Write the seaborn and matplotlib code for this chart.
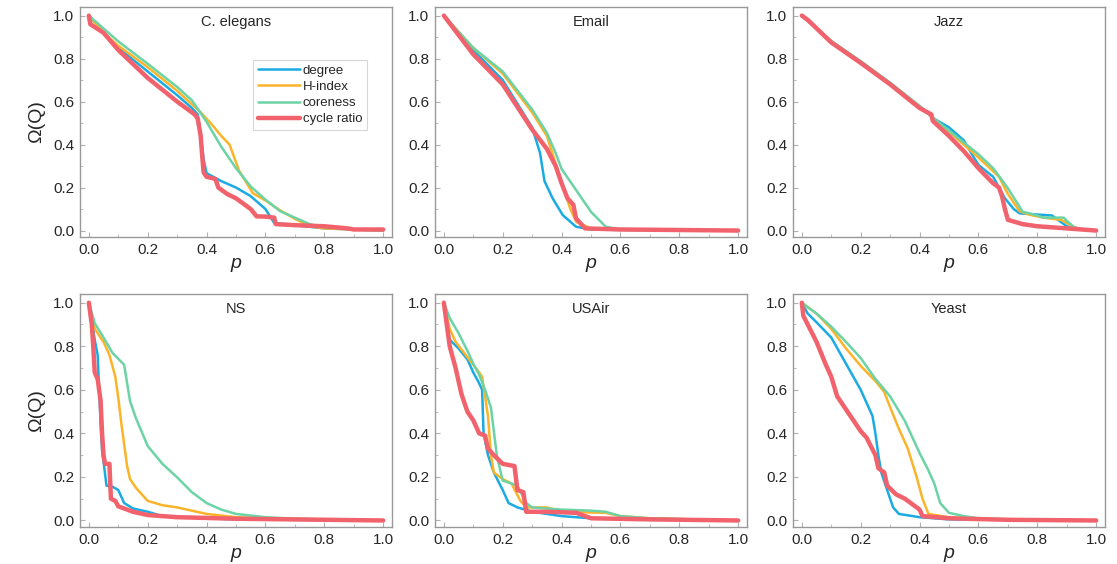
import numpy as np
import pandas as pd
import seaborn as sns
import matplotlib.pyplot as plt
from matplotlib.ticker import MultipleLocator

methods = ["degree", "H-index", "coreness", "cycle ratio"]
colors = ["#1AABE3", "#FBB42A", "#6CD3A5", "#F1626C"]
widths = [1.8, 1.8, 1.8, 3.2]
networks = ["C. elegans", "Email", "Jazz", "NS", "USAir", "Yeast"]

# C. elegans
ce_deg_p = [0, 0.05, 0.1, 0.2, 0.3, 0.35, 0.37, 0.38, 0.39, 0.40, 0.45, 0.5, 0.55, 0.6, 0.63, 0.7, 0.8, 0.9, 1.0]
ce_deg_v = [1.0, 0.92, 0.85, 0.74, 0.63, 0.57, 0.54, 0.45, 0.33, 0.267, 0.23, 0.20, 0.16, 0.10, 0.035, 0.025, 0.01, 0.005, 0.0]
ce_h_p = [0, 0.05, 0.1, 0.2, 0.3, 0.38, 0.42, 0.45, 0.478, 0.51, 0.557, 0.6, 0.65, 0.7, 0.75, 0.8, 0.9, 1.0]
ce_h_v = [1.0, 0.92, 0.86, 0.76, 0.65, 0.55, 0.49, 0.44, 0.40, 0.28, 0.174, 0.14, 0.094, 0.055, 0.02, 0.01, 0.005, 0.0]
ce_core_p = [0, 0.05, 0.1, 0.2, 0.3, 0.35, 0.4, 0.45, 0.5, 0.55, 0.6, 0.65, 0.7, 0.75, 0.8, 0.9, 1.0]
ce_core_v = [1.0, 0.94, 0.88, 0.776, 0.668, 0.606, 0.506, 0.39, 0.29, 0.205, 0.144, 0.09, 0.06, 0.03, 0.015, 0.005, 0.0]
ce_cr_p = [0, 0.005, 0.05, 0.1, 0.2, 0.3, 0.36, 0.37, 0.38, 0.385, 0.39, 0.40, 0.43, 0.44, 0.47, 0.5, 0.53, 0.55, 0.57, 0.6, 0.63, 0.635, 0.7, 0.8, 0.88, 0.9, 1.0]
ce_cr_v = [1.0, 0.96, 0.92, 0.84, 0.71, 0.60, 0.54, 0.52, 0.44, 0.35, 0.27, 0.25, 0.24, 0.20, 0.17, 0.15, 0.12, 0.10, 0.066, 0.065, 0.06, 0.03, 0.025, 0.02, 0.01, 0.005, 0.005]

# Email
em_deg_p = [0, 0.1, 0.2, 0.3, 0.327, 0.342, 0.37, 0.404, 0.449, 0.5, 0.6, 1.0]
em_deg_v = [1.0, 0.84, 0.70, 0.48, 0.36, 0.23, 0.149, 0.072, 0.018, 0.005, 0.003, 0.0]
em_h_p = [0, 0.1, 0.2, 0.3, 0.35, 0.365, 0.4, 0.43, 0.45, 0.5, 0.6, 1.0]
em_h_v = [1.0, 0.85, 0.73, 0.55, 0.44, 0.376, 0.225, 0.10, 0.04, 0.01, 0.005, 0.0]
em_core_p = [0, 0.1, 0.2, 0.3, 0.35, 0.38, 0.4, 0.45, 0.5, 0.55, 0.6, 1.0]
em_core_v = [1.0, 0.85, 0.74, 0.563, 0.455, 0.36, 0.287, 0.187, 0.087, 0.018, 0.005, 0.0]
em_cr_p = [0, 0.1, 0.2, 0.3, 0.35, 0.38, 0.40, 0.42, 0.44, 0.449, 0.48, 0.6, 1.0]
em_cr_v = [1.0, 0.82, 0.68, 0.47, 0.38, 0.30, 0.22, 0.15, 0.12, 0.057, 0.01, 0.005, 0.0]

# Jazz
jz_deg_p = [0, 0.1, 0.2, 0.3, 0.4, 0.45, 0.5, 0.55, 0.58, 0.6, 0.65, 0.69, 0.72, 0.74, 0.85, 0.87, 0.9, 0.93, 1.0]
jz_deg_v = [1.0, 0.88, 0.786, 0.685, 0.577, 0.52, 0.48, 0.42, 0.35, 0.305, 0.25, 0.15, 0.10, 0.08, 0.07, 0.05, 0.02, 0.01, 0.0]
jz_h_p = [0, 0.1, 0.2, 0.3, 0.4, 0.45, 0.5, 0.6, 0.67, 0.7, 0.74, 0.77, 0.82, 0.88, 0.92, 0.95, 1.0]
jz_h_v = [1.0, 0.88, 0.786, 0.685, 0.577, 0.52, 0.46, 0.34, 0.25, 0.17, 0.09, 0.075, 0.06, 0.05, 0.02, 0.005, 0.0]
jz_core_p = [0, 0.1, 0.2, 0.3, 0.4, 0.45, 0.5, 0.6, 0.65, 0.7, 0.75, 0.8, 0.82, 0.89, 0.9, 0.93, 0.95, 1.0]
jz_core_v = [1.0, 0.882, 0.788, 0.688, 0.58, 0.52, 0.465, 0.355, 0.29, 0.197, 0.088, 0.07, 0.06, 0.06, 0.045, 0.01, 0.005, 0.0]
jz_cr_p = [0, 0.02, 0.1, 0.2, 0.3, 0.4, 0.44, 0.445, 0.5, 0.55, 0.6, 0.65, 0.67, 0.68, 0.69, 0.70, 0.75, 0.8, 0.9, 1.0]
jz_cr_v = [1.0, 0.98, 0.875, 0.78, 0.68, 0.57, 0.54, 0.51, 0.44, 0.37, 0.29, 0.22, 0.20, 0.16, 0.10, 0.05, 0.03, 0.02, 0.01, 0.0]

# NS
ns_deg_p = [0, 0.01, 0.02, 0.03, 0.035, 0.04, 0.045, 0.05, 0.06, 0.08, 0.10, 0.12, 0.15, 0.2, 0.25, 0.3, 0.5, 1.0]
ns_deg_v = [1.0, 0.92, 0.83, 0.76, 0.60, 0.45, 0.32, 0.27, 0.16, 0.155, 0.14, 0.08, 0.055, 0.04, 0.02, 0.015, 0.005, 0.0]
ns_h_p = [0, 0.02, 0.05, 0.07, 0.09, 0.10, 0.11, 0.12, 0.13, 0.14, 0.16, 0.2, 0.25, 0.3, 0.35, 0.4, 0.5, 0.6, 1.0]
ns_h_v = [1.0, 0.88, 0.82, 0.76, 0.66, 0.563, 0.45, 0.35, 0.25, 0.19, 0.15, 0.09, 0.07, 0.06, 0.045, 0.03, 0.015, 0.01, 0.0]
ns_core_p = [0, 0.02, 0.05, 0.08, 0.12, 0.14, 0.16, 0.2, 0.25, 0.3, 0.35, 0.4, 0.45, 0.5, 0.6, 0.7, 0.8, 1.0]
ns_core_v = [1.0, 0.906, 0.84, 0.77, 0.715, 0.548, 0.47, 0.342, 0.26, 0.198, 0.13, 0.08, 0.05, 0.03, 0.015, 0.008, 0.005, 0.0]
ns_cr_p = [0, 0.01, 0.015, 0.02, 0.03, 0.04, 0.045, 0.05, 0.055, 0.07, 0.075, 0.09, 0.1, 0.15, 0.2, 0.3, 0.5, 1.0]
ns_cr_v = [1.0, 0.90, 0.80, 0.68, 0.65, 0.55, 0.40, 0.30, 0.26, 0.26, 0.10, 0.09, 0.065, 0.04, 0.025, 0.015, 0.008, 0.0]

# USAir
ua_deg_p = [0, 0.02, 0.05, 0.08, 0.1, 0.12, 0.13, 0.135, 0.15, 0.17, 0.2, 0.22, 0.25, 0.3, 0.4, 0.5, 0.6, 1.0]
ua_deg_v = [1.0, 0.83, 0.79, 0.74, 0.68, 0.63, 0.60, 0.40, 0.30, 0.22, 0.14, 0.08, 0.06, 0.04, 0.02, 0.01, 0.008, 0.0]
ua_h_p = [0, 0.02, 0.04, 0.08, 0.12, 0.13, 0.14, 0.15, 0.16, 0.17, 0.2, 0.23, 0.26, 0.28, 0.35, 0.4, 0.55, 0.6, 0.7, 1.0]
ua_h_v = [1.0, 0.88, 0.82, 0.75, 0.68, 0.66, 0.57, 0.48, 0.30, 0.22, 0.19, 0.17, 0.09, 0.06, 0.06, 0.04, 0.035, 0.02, 0.01, 0.0]
ua_core_p = [0, 0.02, 0.05, 0.08, 0.1, 0.12, 0.14, 0.16, 0.18, 0.19, 0.2, 0.25, 0.28, 0.3, 0.4, 0.5, 0.55, 0.6, 0.7, 1.0]
ua_core_v = [1.0, 0.93, 0.86, 0.78, 0.72, 0.67, 0.60, 0.518, 0.30, 0.24, 0.183, 0.16, 0.08, 0.06, 0.05, 0.045, 0.04, 0.02, 0.01, 0.0]
ua_cr_p = [0, 0.01, 0.02, 0.04, 0.06, 0.08, 0.1, 0.12, 0.14, 0.15, 0.17, 0.2, 0.24, 0.25, 0.27, 0.28, 0.35, 0.45, 0.48, 0.5, 0.7, 1.0]
ua_cr_v = [1.0, 0.90, 0.80, 0.70, 0.58, 0.50, 0.46, 0.40, 0.39, 0.33, 0.30, 0.26, 0.25, 0.14, 0.13, 0.04, 0.04, 0.035, 0.02, 0.01, 0.005, 0.0]

# Yeast
ye_deg_p = [0, 0.02, 0.05, 0.1, 0.15, 0.2, 0.22, 0.24, 0.25, 0.26, 0.27, 0.29, 0.31, 0.33, 0.4, 0.5, 1.0]
ye_deg_v = [1.0, 0.95, 0.91, 0.84, 0.72, 0.60, 0.54, 0.48, 0.40, 0.30, 0.22, 0.14, 0.06, 0.03, 0.015, 0.005, 0.0]
ye_h_p = [0, 0.05, 0.1, 0.15, 0.2, 0.25, 0.28, 0.3, 0.33, 0.36, 0.39, 0.41, 0.43, 0.5, 0.6, 1.0]
ye_h_v = [1.0, 0.95, 0.88, 0.79, 0.71, 0.64, 0.59, 0.52, 0.42, 0.33, 0.20, 0.10, 0.03, 0.015, 0.008, 0.0]
ye_core_p = [0, 0.05, 0.1, 0.15, 0.2, 0.25, 0.3, 0.35, 0.4, 0.43, 0.45, 0.47, 0.5, 0.55, 0.6, 0.7, 1.0]
ye_core_v = [1.0, 0.95, 0.89, 0.82, 0.746, 0.65, 0.57, 0.457, 0.31, 0.23, 0.17, 0.08, 0.035, 0.02, 0.01, 0.005, 0.0]
ye_cr_p = [0, 0.005, 0.02, 0.05, 0.08, 0.1, 0.12, 0.15, 0.2, 0.22, 0.25, 0.26, 0.28, 0.29, 0.32, 0.35, 0.37, 0.39, 0.4, 0.41, 0.5, 0.7, 1.0]
ye_cr_v = [1.0, 0.94, 0.90, 0.82, 0.72, 0.66, 0.57, 0.51, 0.41, 0.38, 0.30, 0.24, 0.22, 0.16, 0.12, 0.10, 0.08, 0.06, 0.05, 0.02, 0.01, 0.003, 0.0]

panels = [
    [(ce_deg_p, ce_deg_v), (ce_h_p, ce_h_v), (ce_core_p, ce_core_v), (ce_cr_p, ce_cr_v)],
    [(em_deg_p, em_deg_v), (em_h_p, em_h_v), (em_core_p, em_core_v), (em_cr_p, em_cr_v)],
    [(jz_deg_p, jz_deg_v), (jz_h_p, jz_h_v), (jz_core_p, jz_core_v), (jz_cr_p, jz_cr_v)],
    [(ns_deg_p, ns_deg_v), (ns_h_p, ns_h_v), (ns_core_p, ns_core_v), (ns_cr_p, ns_cr_v)],
    [(ua_deg_p, ua_deg_v), (ua_h_p, ua_h_v), (ua_core_p, ua_core_v), (ua_cr_p, ua_cr_v)],
    [(ye_deg_p, ye_deg_v), (ye_h_p, ye_h_v), (ye_core_p, ye_core_v), (ye_cr_p, ye_cr_v)],
]

sns.set_style("white")
plt.rcParams['font.family'] = ['Liberation Sans', 'DejaVu Sans']

fig = plt.figure(figsize=(11.17, 5.64), dpi=100)
W, H = 1117, 564
lefts = [80, 435, 793]
rows = [(7, 237), (294, 527)]

for i, name in enumerate(networks):
    r, c = divmod(i, 3)
    top, bot = rows[r]
    ax = fig.add_axes([lefts[c] / W, (H - bot) / H, 312 / W, (bot - top) / H])
    for k, (p, v) in enumerate(panels[i]):
        df = pd.DataFrame({"p": p, "omega": v})
        sns.lineplot(data=df, x="p", y="omega", ax=ax, color=colors[k], lw=widths[k],
                     estimator=None, label=methods[k])
    ax.set_xlim(-0.03, 1.03)
    ax.set_ylim(-0.03, 1.04)
    ax.xaxis.set_major_locator(MultipleLocator(0.2))
    ax.yaxis.set_major_locator(MultipleLocator(0.2))
    ax.xaxis.set_minor_locator(MultipleLocator(0.1))
    ax.yaxis.set_minor_locator(MultipleLocator(0.1))
    ax.tick_params(which="both", direction="in", bottom=True, left=True,
                   color="#b0b0b0", labelsize=11, pad=4)
    ax.tick_params(which="major", length=3.5, width=0.8)
    ax.tick_params(which="minor", length=2, width=0.6)
    ax.set_xticklabels([f"{t:.1f}" for t in ax.get_xticks()])
    ax.set_yticklabels([f"{t:.1f}" for t in ax.get_yticks()])
    for s in ax.spines.values():
        s.set_color("#999999")
        s.set_linewidth(1.0)
    ax.text(0.5, 0.965, name, transform=ax.transAxes, ha="center", va="top", fontsize=10.5)
    ax.set_xlabel("p", fontsize=14, style="italic", labelpad=-1)
    if c == 0:
        ax.set_ylabel("Ω(Q)", fontsize=14, labelpad=6)
    else:
        ax.set_ylabel("")
    if i == 0:
        leg = ax.legend(loc="upper right", bbox_to_anchor=(0.92, 0.77), borderaxespad=0,
                        fontsize=9.5, frameon=True, fancybox=False, handlelength=3.2,
                        handletextpad=0.2, labelspacing=0.3, borderpad=0.35)
        leg.get_frame().set_edgecolor("#cccccc")
        leg.get_frame().set_linewidth(0.8)
    else:
        ax.get_legend().remove()

fig.savefig("out.png", dpi=100)
